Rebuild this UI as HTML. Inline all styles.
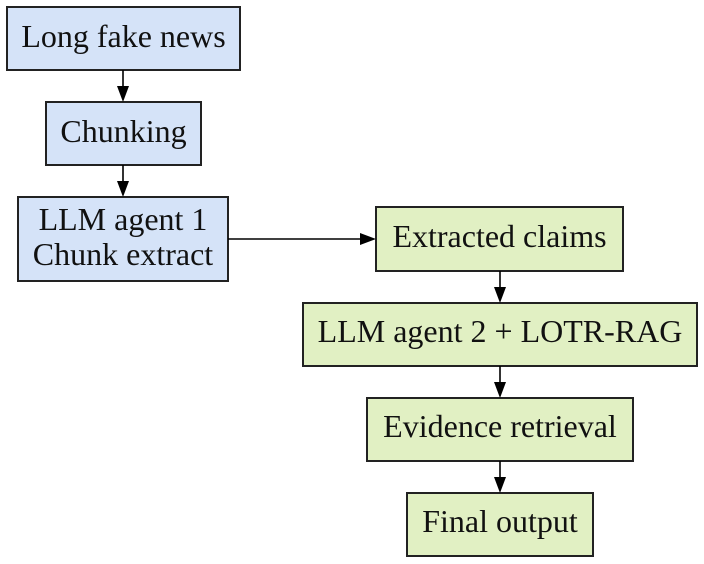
<!DOCTYPE html>
<html><head><meta charset="utf-8"><style>
html,body{margin:0;padding:0;background:#fff;}
svg{display:block;}
.t{font-family:"Liberation Serif","Times New Roman","DejaVu Serif",serif !important;font-size:32px;fill:#111;text-anchor:middle;}
</style></head><body>
<svg width="704" height="564" viewBox="0 0 704 564" xmlns="http://www.w3.org/2000/svg">
<g stroke="#222" stroke-width="2">
<rect x="7" y="7" width="233" height="63" fill="#d5e3f8"/>
<rect x="46" y="102" width="155" height="63" fill="#d5e3f8"/>
<rect x="18" y="197" width="210" height="84" fill="#d5e3f8"/>
<rect x="376" y="207" width="247" height="64" fill="#e1f0c3"/>
<rect x="303" y="303" width="394" height="63" fill="#e1f0c3"/>
<rect x="367" y="398" width="266" height="63" fill="#e1f0c3"/>
<rect x="407" y="493" width="186" height="63" fill="#e1f0c3"/>
</g>
<g stroke="#000" stroke-width="1.6" fill="#000">
<line x1="123" y1="70" x2="123" y2="86"/><path d="M117,86 L129,86 L123,102 z" stroke="none"/>
<line x1="123" y1="165" x2="123" y2="181"/><path d="M117,181 L129,181 L123,197 z" stroke="none"/>
<line x1="228" y1="239" x2="360" y2="239"/><path d="M360,233 L360,245 L376,239 z" stroke="none"/>
<line x1="500" y1="271" x2="500" y2="287"/><path d="M494,287 L506,287 L500,303 z" stroke="none"/>
<line x1="500" y1="366" x2="500" y2="382"/><path d="M494,382 L506,382 L500,398 z" stroke="none"/>
<line x1="500" y1="461" x2="500" y2="477"/><path d="M494,477 L506,477 L500,493 z" stroke="none"/>
</g>
<g font-family="Liberation Serif, serif" font-size="32">
<text class="t" x="123.5" y="47">Long fake news</text>
<text class="t" x="123.5" y="142">Chunking</text>
<text class="t" x="123" y="230">LLM agent 1</text>
<text class="t" x="123" y="265">Chunk extract</text>
<text class="t" x="499.5" y="247">Extracted claims</text>
<text class="t" x="500" y="342">LLM agent 2 + LOTR-RAG</text>
<text class="t" x="500" y="437">Evidence retrieval</text>
<text class="t" x="500" y="532">Final output</text>
</g>
</svg>
</body></html>
